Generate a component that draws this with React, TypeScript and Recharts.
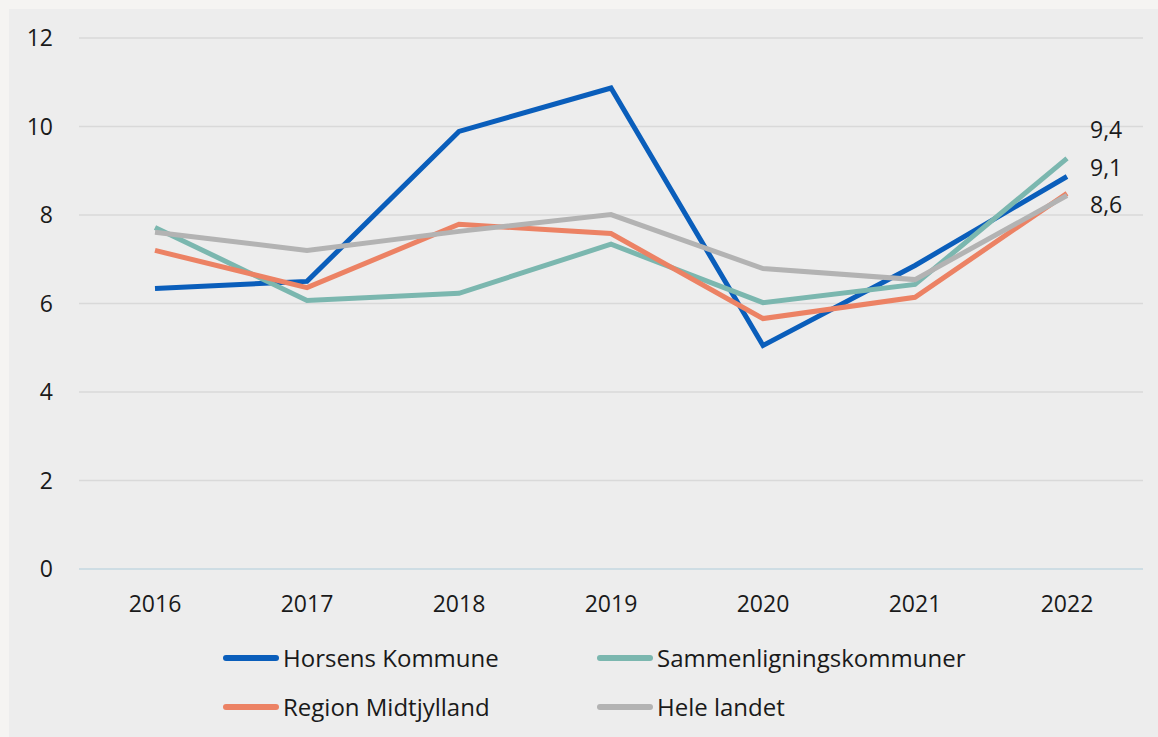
import { LineChart, Line, XAxis, YAxis, CartesianGrid, Legend, LabelList } from "recharts";

const years = ["2016", "2017", "2018", "2019", "2020", "2021", "2022"];
const horsens = [6.34, 6.5, 9.89, 10.87, 5.05, 6.86, 8.87];
const sammen = [7.72, 6.07, 6.23, 7.34, 6.02, 6.43, 9.28];
const region = [7.2, 6.36, 7.79, 7.58, 5.66, 6.14, 8.49];
const heleLandet = [7.61, 7.2, 7.63, 8.01, 6.79, 6.54, 8.44];
const yTicks = [0, 2, 4, 6, 8, 10, 12];

const series = [
  { key: "horsens", name: "Horsens Kommune", color: "#0a5ebb", endLabel: "9,1", dy: -9 },
  { key: "sammen", name: "Sammenligningskommuner", color: "#7bb7af", endLabel: "9,4", dy: -28 },
  { key: "region", name: "Region Midtjylland", color: "#ec8264", endLabel: "8,6", dy: 12 },
  { key: "hele", name: "Hele landet", color: "#b3b3b3", endLabel: "", dy: 0 },
];

const data = years.map((year, i) => ({
  year,
  horsens: horsens[i],
  sammen: sammen[i],
  region: region[i],
  hele: heleLandet[i],
}));

const FONT = "'Open Sans', sans-serif";
const TEXT = "#1a1a1a";

function LegendGrid() {
  return (
    <div
      style={{
        display: "grid",
        gridTemplateColumns: "374px auto",
        gridAutoRows: "49px",
        paddingLeft: 214,
        fontFamily: FONT,
        fontSize: 24,
        color: TEXT,
      }}
    >
      {series.map((s) => (
        <div key={s.key} style={{ display: "flex", alignItems: "center" }}>
          <span
            style={{
              display: "inline-block",
              width: 56,
              height: 6,
              borderRadius: 3,
              background: s.color,
              marginRight: 4,
            }}
          />
          <span>{s.name}</span>
        </div>
      ))}
    </div>
  );
}

function endLabel(text: string, dy: number) {
  return (props: any) => {
    const { x, y, index } = props;
    if (index !== years.length - 1 || !text) return null;
    return (
      <text x={x + 23} y={y + dy} dy="0.35em" fill={TEXT} fontSize={23} fontFamily={FONT}>
        {text}
      </text>
    );
  };
}

export default function App() {
  return (
    <div style={{ position: "fixed", left: 0, top: 0, width: 1158, height: 737, background: "#f5f4f2" }}>
      <div style={{ position: "absolute", left: 9, top: 9, width: 1149, height: 728, background: "#ededed" }}>
        <LineChart width={1149} height={728} data={data} margin={{ top: 29, right: 15, left: 0, bottom: 0 }}>
          <CartesianGrid vertical={false} stroke="#d9d9d9" strokeWidth={1.5} />
          <XAxis
            dataKey="year"
            padding={{ left: 76, right: 76 }}
            tickLine={false}
            tickSize={0}
            tickMargin={27}
            height={70}
            axisLine={{ stroke: "#c8dde6", strokeWidth: 1.5 }}
            tick={{ fill: TEXT, fontSize: 23, fontFamily: FONT }}
          />
          <YAxis
            domain={[0, 12]}
            ticks={yTicks}
            width={70}
            axisLine={false}
            tickLine={false}
            tickSize={0}
            tickMargin={26}
            tick={{ fill: TEXT, fontSize: 23, fontFamily: FONT }}
          />
          <Legend
            content={<LegendGrid />}
            wrapperStyle={{ left: 0, top: 624, width: 1149 }}
          />
          {series.map((s) => (
            <Line
              key={s.key}
              dataKey={s.key}
              name={s.name}
              stroke={s.color}
              strokeWidth={5}
              dot={false}
              activeDot={false}
              isAnimationActive={false}
            >
              <LabelList dataKey={s.key} content={endLabel(s.endLabel, s.dy)} />
            </Line>
          ))}
        </LineChart>
      </div>
    </div>
  );
}
